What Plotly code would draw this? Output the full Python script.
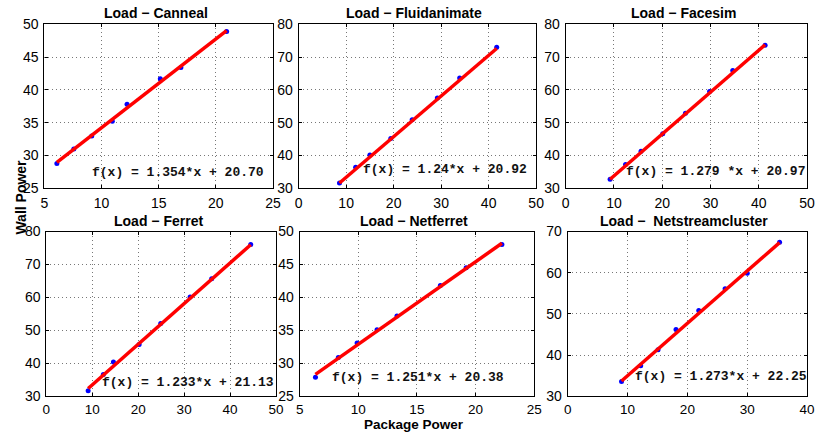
import plotly.graph_objects as go

# ---------------- data ----------------
titles = ["Load \u2212 Canneal", "Load \u2212 Fluidanimate", "Load \u2212 Facesim",
          "Load \u2212 Ferret", "Load \u2212 Netferret", "Load \u2212  Netstreamcluster"]

canneal_x = [6.09, 7.57, 9.14, 10.94, 12.23, 15.14, 16.94, 20.94]
canneal_y = [28.78, 30.97, 32.97, 35.2, 37.8, 41.7, 43.4, 48.9]

fluid_x = [8.6, 12.0, 15.0, 19.4, 23.9, 29.2, 33.9, 41.7]
fluid_y = [31.6, 36.4, 40.1, 45.2, 50.9, 57.5, 63.6, 73.0]

facesim_x = [9.2, 12.4, 15.6, 20.1, 24.8, 29.8, 34.6, 41.3]
facesim_y = [32.7, 37.2, 41.3, 46.6, 52.9, 59.5, 65.9, 73.6]

ferret_x = [9.1, 12.4, 14.6, 20.2, 24.9, 31.3, 36.0, 44.5]
ferret_y = [31.7, 36.6, 40.4, 45.7, 52.1, 60.1, 65.7, 76.1]

netferret_x = [6.35, 8.3, 9.9, 11.6, 13.3, 17.0, 19.2, 22.25]
netferret_y = [27.9, 30.9, 33.1, 35.1, 37.2, 41.8, 44.5, 48.05]

netstream_x = [9.0, 12.2, 15.1, 18.1, 21.9, 26.3, 30.0, 35.4]
netstream_y = [33.6, 37.4, 41.3, 46.2, 50.8, 56.1, 59.9, 67.4]

slopes = [1.354, 1.24, 1.279, 1.233, 1.251, 1.273]
intercepts = [20.70, 20.92, 20.97, 21.13, 20.38, 22.25]
fit_labels = ["f(x) = 1.354*x + 20.70", "f(x) = 1.24*x + 20.92", "f(x) = 1.279 *x + 20.97",
              "f(x) = 1.233*x + 21.13", "f(x) = 1.251*x + 20.38", "f(x) = 1.273*x + 22.25"]
label_pos_x = [9.0, 13.2, 12.1, 11.7, 7.6, 10.9]
label_pos_y = [27.4, 35.6, 35.1, 34.1, 27.8, 34.9]

x_ranges = [[5, 25], [0, 50], [0, 50], [0, 50], [5, 25], [0, 40]]
y_ranges = [[25, 50], [30, 80], [30, 80], [30, 80], [25, 50], [30, 70]]
x_dtick = [5, 10, 10, 10, 5, 10]
y_dtick = [5, 10, 10, 10, 5, 10]

xs = [canneal_x, fluid_x, facesim_x, ferret_x, netferret_x, netstream_x]
ys = [canneal_y, fluid_y, facesim_y, ferret_y, netferret_y, netstream_y]

# ---------------- layout geometry (pixels) ----------------
W, H = 823, 438
px_cols = [[(41, 273), (299, 540), (570, 815)],
           [(43, 276), (300, 538), (572, 815)]]
px_rows = [(17, 187), (232, 403)]

fig = go.Figure()
annotations = []
layout_axes = {}

for i in range(6):
    r, c = divmod(i, 3)
    x0, x1 = px_cols[r][c]
    t, b = px_rows[r]
    xd = [x0 / W, x1 / W]
    yd = [1 - b / H, 1 - t / H]
    n = i + 1
    xa = "x" if n == 1 else f"x{n}"
    ya = "y" if n == 1 else f"y{n}"
    fig.add_trace(go.Scatter(x=xs[i], y=ys[i], mode="markers",
                             marker=dict(color="blue", size=5),
                             xaxis=xa, yaxis=ya, showlegend=False))
    fx = [min(xs[i]), max(xs[i])]
    fy = [slopes[i] * v + intercepts[i] for v in fx]
    fig.add_trace(go.Scatter(x=fx, y=fy, mode="lines",
                             line=dict(color="red", width=3.5),
                             xaxis=xa, yaxis=ya, showlegend=False))
    axcommon = dict(showline=True, linecolor="black", linewidth=1.2, mirror="allticks",
                    ticks="inside", ticklen=3, tickcolor="black",
                    showgrid=True, gridcolor="#777", gridwidth=1, griddash="1px,3px",
                    zeroline=False)
    layout_axes["xaxis" if n == 1 else f"xaxis{n}"] = dict(
        domain=xd, range=x_ranges[i], dtick=x_dtick[i], tick0=0,
        anchor=ya, ticklabelstandoff=(2 if r == 0 else 0),
        tickfont=dict(family="Liberation Sans", size=(14 if r == 0 else 13.5), color="black"),
        **axcommon)
    layout_axes["yaxis" if n == 1 else f"yaxis{n}"] = dict(
        domain=yd, range=y_ranges[i], dtick=y_dtick[i], tick0=0,
        anchor=xa, ticklabelstandoff=2,
        tickfont=dict(family="Liberation Sans", size=14, color="black"), **axcommon)
    annotations.append(dict(text=f"<b>{titles[i]}</b>", x=(x0 + x1) / 2 / W - 3 / W, y=1 - (t - 1) / H,
                            xref="paper", yref="paper", xanchor="center", yanchor="bottom",
                            showarrow=False,
                            font=dict(family="Liberation Sans", size=14, color="black")))
    annotations.append(dict(text=f"<b>{fit_labels[i]}</b>", x=label_pos_x[i], y=label_pos_y[i],
                            xref=xa, yref=ya, xanchor="left", yanchor="middle", showarrow=False,
                            font=dict(family="Liberation Mono", size=13, color="#111")))

annotations.append(dict(text="<b>Wall Power</b>", x=17 / W, y=1 - 196 / H, xref="paper", yref="paper",
                        textangle=-90, showarrow=False, xanchor="center", yanchor="middle",
                        font=dict(family="Liberation Sans", size=14, color="black")))
annotations.append(dict(text="<b>Package Power</b>", x=416 / W, y=0, xref="paper", yref="paper",
                        showarrow=False, xanchor="center", yanchor="bottom", borderpad=0, yshift=-3,
                        font=dict(family="Liberation Sans", size=13.5, color="black")))

fig.update_layout(width=W, height=H, autosize=False,
                  margin=dict(l=0, r=0, t=0, b=0),
                  paper_bgcolor="white", plot_bgcolor="white",
                  annotations=annotations, **layout_axes)

fig.write_html("out.html")
